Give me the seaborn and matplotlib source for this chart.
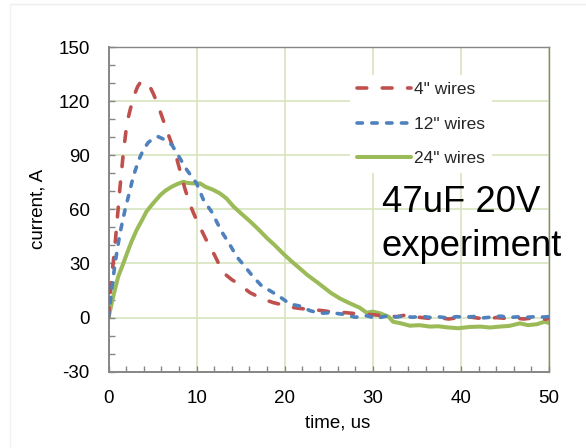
import matplotlib
matplotlib.use("Agg")
import matplotlib.pyplot as plt
from matplotlib.lines import Line2D
from matplotlib.ticker import MultipleLocator
import numpy as np
import pandas as pd
import seaborn as sns

# ---------------- data ----------------
t_red = [0, 0.3, 0.7, 1.0, 1.3, 1.7, 2.1, 2.5, 2.9, 3.3, 3.7, 4.2, 4.6, 5.1, 5.6, 6.1,
         6.6, 7.2, 7.7, 8.2, 8.7, 9.3, 10.0, 10.5, 11.0, 11.5, 12.0, 12.5, 13.0, 14.0,
         15.0, 16.0, 17.0, 18.0, 18.7, 19.8, 20.8, 21.8, 22.8, 24.0, 25.1, 26.0, 27.0,
         28.0, 29.1, 30.0, 31.2, 32.0, 32.7, 33.5, 34.2, 35.2, 36.3, 37.4, 38.6, 39.7,
         40.8, 41.8, 42.9, 44.0, 45.0, 46.0, 47.1, 48.0, 49.0, 50.0]
i_red = [0, 20, 38, 55, 72, 92, 108, 116, 123, 128, 131, 130, 129, 124, 118, 111,
         104, 96, 89, 80, 71, 62, 54, 49, 44, 39, 35, 30, 25, 21,
         18, 14, 11.5, 9.5, 8.3, 7, 5.7, 5, 4.6, 4, 3.3, 3, 2.7,
         2.2, 1.8, 1.6, 1.0, 0.8, 0.5, 1.2, 1.0, 0.2, -0.4, 0.1, -0.8, 0,
         0.5, -0.2, -0.8, 0, -0.4, -0.1, -0.8, -0.3, -1.3, -0.6]

t_blue = [0, 0.36, 0.74, 1.3, 1.87, 2.44, 2.8, 3.4, 3.95, 4.5, 5.1, 5.65, 6.2, 6.7,
          7.2, 7.9, 8.9, 10.0, 10.8, 11.7, 12.85, 13.8, 14.55, 15.5, 16.4, 17.4, 18.5,
          19.6, 20.6, 21.7, 22.9, 24.0, 25.3, 26.7, 28.0, 29.3, 30.4, 31.6, 32.5, 33.5,
          34.5, 35.5, 36.5, 37.5, 38.5, 39.5, 40.5, 41.5, 42.5, 43.5, 44.5, 45.5, 46.5,
          47.5, 48.5, 49.5, 50]
i_blue = [0, 15.3, 30, 46.7, 59.6, 70.7, 78, 87, 93, 97, 99.4, 100.3, 99, 97.5,
          95.7, 90, 81.8, 74.4, 65, 58.7, 47.6, 40.2, 33.8, 28.2, 22.7, 17.5, 14.4,
          11, 7.5, 6.4, 3.8, 2.4, 2.7, 1.8, 0.2, 1.0, -0.4, 0.9, 0.3, 0.8,
          0.2, 0.7, 0.1, 0.4, -0.2, 0.5, 0.2, 0.6, -0.2, 0.3, 0.8, 0.1, 0.4,
          0.2, 0.5, 0.3, 0.6]

t_green = [0, 0.5, 1.1, 1.6, 2.1, 2.6, 3.2, 3.8, 4.3, 5.0, 5.9, 6.5, 7.2, 7.8, 8.5,
           8.9, 9.5, 10.4, 11.0, 11.8, 12.6, 13.4, 14.2, 15.1, 16.1, 17.0, 18.0, 18.9,
           19.8, 20.7, 21.7, 22.6, 23.6, 24.5, 25.3, 26.3, 27.4, 28.5, 29.3, 30.0, 30.8,
           31.8, 32.3, 33.2, 34.2, 35.3, 36.5, 37.4, 38.4, 39.7, 41.0, 42.2, 43.3, 44.4,
           45.5, 46.7, 47.6, 48.6, 49.5, 50.0]
i_green = [0, 11, 22.7, 29, 35.6, 42, 48.6, 54, 58.7, 63, 68, 70.5, 72.6, 74, 75.3,
           74.7, 74.4, 74.4, 72.5, 71, 69, 66, 61.5, 57.5, 53.2, 49, 44, 40,
           35.6, 31.5, 27.3, 23.5, 19.9, 16.5, 13.5, 10.5, 7.9, 5.5, 2.7, 3.3, 2.4,
           0.5, -2.3, -3.2, -4.5, -4.2, -5, -4.8, -5.4, -5.9, -5.2, -5, -5.5, -5,
           -4.6, -3.2, -4.2, -3.7, -2.3, -3]

labels = ['4" wires', '12" wires', '24" wires']
x_ticks = [0, 10, 20, 30, 40, 50]
y_ticks = [-30, 0, 30, 60, 90, 120, 150]

# ---------------- style ----------------
sns.set_theme(style="white")
plt.rcParams['font.family'] = ['Liberation Sans', 'DejaVu Sans']
plt.rcParams['axes.unicode_minus'] = False

RED = '#C0504D'
BLUE = '#4F81BD'
GREEN = '#9BBB59'
GRID = '#D7E4BD'
SPINE = '#868686'

fig = plt.figure(figsize=(5.86, 4.48), dpi=100)
fig.patch.set_facecolor('white')
W, H = 586, 448
ax = fig.add_axes([108.5 / W, 1 - 371.7 / H, 440.5 / W, 324.7 / H])

# faint outer chart border
fig.add_artist(Line2D([10 / W, 1], [1 - 4 / H, 1 - 4 / H], transform=fig.transFigure,
                      color='#EDEDED', lw=1))
fig.add_artist(Line2D([10 / W, 10 / W], [0, 1 - 4 / H], transform=fig.transFigure,
                      color='#F2F2F2', lw=1))

lw = 2.6
df_r = pd.DataFrame({'t': t_red, 'i': i_red})
df_b = pd.DataFrame({'t': t_blue, 'i': i_blue})
df_g = pd.DataFrame({'t': t_green, 'i': i_green})

sns.lineplot(data=df_r, x='t', y='i', ax=ax, color=RED, lw=lw, estimator=None,
             linestyle=(0, (2.7, 4.3)), dash_capstyle='round', label=labels[0], zorder=3)
sns.lineplot(data=df_b, x='t', y='i', ax=ax, color=BLUE, lw=lw, estimator=None,
             linestyle=(0, (1.5, 2.6)), dash_capstyle='round', label=labels[1], zorder=3)
sns.lineplot(data=df_g, x='t', y='i', ax=ax, color=GREEN, lw=lw + 0.3, estimator=None,
             solid_capstyle='round', label=labels[2], zorder=2)

ax.set_xlim(0, 50)
ax.set_ylim(-30, 150)
ax.set_xticks(x_ticks)
ax.set_yticks(y_ticks)
ax.xaxis.set_minor_locator(MultipleLocator(2))
ax.yaxis.set_minor_locator(MultipleLocator(10))
ax.tick_params(which='both', direction='in', length=4, width=1, color=SPINE,
               labelsize=13.5, pad=13.5, labelcolor='black',
               top=False, right=False, left=True, bottom=True)
ax.grid(True, which='major', color=GRID, lw=1.2)
ax.set_axisbelow(True)
for s in ax.spines.values():
    s.set_color(SPINE)
    s.set_linewidth(1.0)
ax.spines['left'].set_linewidth(1.4)
ax.spines['bottom'].set_linewidth(1.4)

ax.set_xlabel('time, us', fontsize=13.5, color='black')
ax.set_ylabel('current, A', fontsize=13.5, color='black')
ax.xaxis.set_label_coords(0.521, -0.133)
ax.yaxis.set_label_coords(-0.14, 0.5)

leg = ax.legend(loc='upper left', bbox_to_anchor=(0.548, 0.914), borderaxespad=0,
                fontsize=12.5, frameon=True, facecolor='white', edgecolor='none',
                framealpha=1, fancybox=False, handlelength=3.1, handletextpad=0.2,
                labelspacing=1.12, borderpad=0.4)

ax.text(31.0, 58.5, '47uF 20V', fontsize=26.3, color='black', ha='left',
        va='baseline', clip_on=False, zorder=5)
ax.text(31.0, 34.1, 'experiment', fontsize=26.3, color='black', ha='left',
        va='baseline', clip_on=False, zorder=5)

fig.savefig('out.png', dpi=100, facecolor='white')
